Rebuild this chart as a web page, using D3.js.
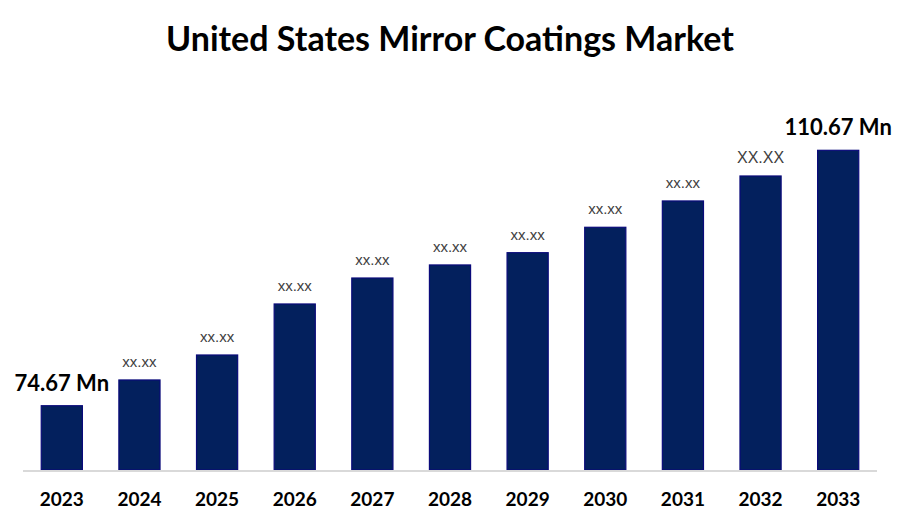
<!DOCTYPE html>
<html>
<head>
<meta charset="utf-8">
<script src="https://cdn.jsdelivr.net/npm/d3@7/dist/d3.min.js"></script>
<style>
  html, body { margin: 0; padding: 0; background: #ffffff; }
  svg { display: block; }
</style>
</head>
<body>
<div id="chart"></div>
<script>
const years = ["2023","2024","2025","2026","2027","2028","2029","2030","2031","2032","2033"];
const values = [74.67, 78.30, 81.82, 89.01, 92.67, 94.51, 96.24, 99.82, 103.53, 107.05, 110.67];
const labels = ["74.67 Mn","xx.xx","xx.xx","xx.xx","xx.xx","xx.xx","xx.xx","xx.xx","xx.xx","XX.XX","110.67 Mn"];
const title = "United States Mirror Coatings Market";

const W = 900, H = 525;
const svg = d3.select("#chart").append("svg").attr("width", W).attr("height", H);

const x = d3.scaleBand().domain(years).range([23, 877]).paddingInner(0.47).paddingOuter(0.235);
const y = d3.scaleLinear().domain([65.61, 110.67]).range([470, 150.3]);

svg.append("text")
  .attr("x", 450).attr("y", 51)
  .attr("text-anchor", "middle")
  .attr("font-family", "Lato, 'Open Sans', sans-serif")
  .attr("font-weight", "bold")
  .attr("font-size", 34)
  .attr("fill", "#000")
  .text(title);

const data = years.map((yr, i) => ({year: yr, value: values[i], label: labels[i]}));

svg.selectAll("rect.bar").data(data).enter().append("rect")
  .attr("class", "bar")
  .attr("x", d => x(d.year))
  .attr("y", d => y(d.value))
  .attr("width", x.bandwidth())
  .attr("height", d => y.range()[0] - y(d.value))
  .attr("fill", "#03205d")
  .attr("stroke", "#0a0a7a")
  .attr("stroke-width", 1.2);

// baseline axis
const axis = svg.append("g").attr("transform", "translate(0,471)")
  .call(d3.axisBottom(x).tickSize(0).tickPadding(16));
axis.select(".domain").attr("stroke", "#d9d9d9").attr("stroke-width", 2)
  .attr("d", "M23,0H877");
axis.selectAll(".tick text")
  .attr("y", 35).attr("dy", 0)
  .attr("font-family", "Lato, 'Open Sans', sans-serif")
  .attr("font-weight", "bold")
  .attr("font-size", 19)
  .attr("fill", "#000");

const isEnd = i => i === 0 || i === years.length - 1;
svg.selectAll("text.lbl").data(data).enter().append("text")
  .attr("class", "lbl")
  .attr("x", d => x(d.year) + x.bandwidth() / 2)
  .attr("y", (d, i) => y(d.value) - (isEnd(i) ? 15 : 13))
  .attr("text-anchor", "middle")
  .attr("font-family", (d, i) => isEnd(i) ? "Lato, sans-serif" : "'Liberation Sans', Arial, sans-serif")
  .attr("font-weight", (d, i) => isEnd(i) ? "bold" : "normal")
  .attr("font-size", (d, i) => isEnd(i) ? 22 : (d.label === "XX.XX" ? 16 : 15))
  .attr("fill", (d, i) => isEnd(i) ? "#000" : "#404040")
  .text(d => d.label);
</script>
</body>
</html>
